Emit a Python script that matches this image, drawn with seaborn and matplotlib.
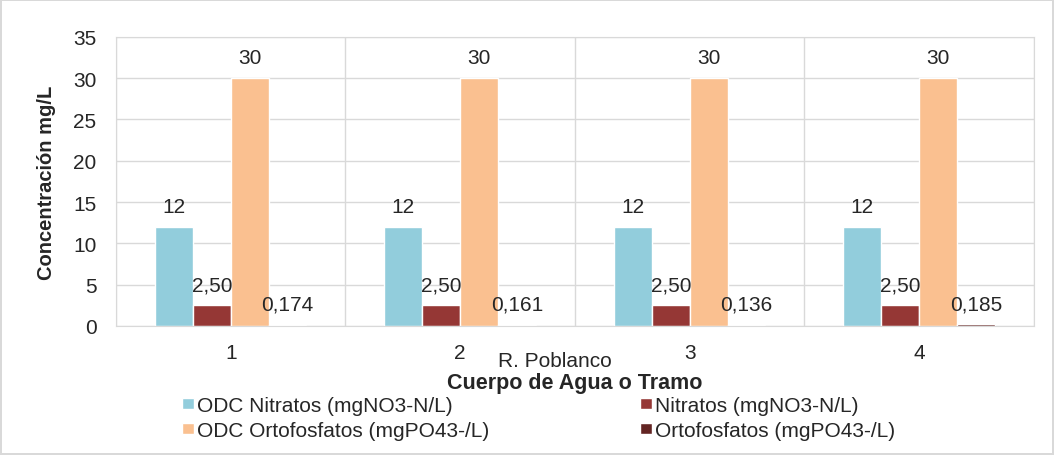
import pandas as pd
import seaborn as sns
import matplotlib.pyplot as plt
from matplotlib.ticker import MultipleLocator

tramos = ['1', '2', '3', '4']
series = ['ODC Nitratos (mgNO3-N/L)', 'Nitratos (mgNO3-N/L)',
          'ODC Ortofosfatos (mgPO43-/L)', 'Ortofosfatos (mgPO43-/L)']
odc_nitratos = [12, 12, 12, 12]
nitratos = [2.50, 2.50, 2.50, 2.50]
odc_ortofosfatos = [30, 30, 30, 30]
ortofosfatos = [0.174, 0.161, 0.136, 0.185]
etiquetas = [
    ['12'] * 4,
    ['2,50'] * 4,
    ['30'] * 4,
    ['0,174', '0,161', '0,136', '0,185'],
]
colores = ['#92CDDC', '#953735', '#FAC090', '#632523']

valores = [odc_nitratos, nitratos, odc_ortofosfatos, ortofosfatos]
df = pd.DataFrame({
    'Tramo': tramos * 4,
    'Serie': [s for s in series for _ in tramos],
    'Valor': [v for vals in valores for v in vals],
})

sns.set_style('white')
plt.rcParams['font.family'] = ['Liberation Sans', 'DejaVu Sans']

fig = plt.figure(figsize=(10.54, 4.56), dpi=100, edgecolor='#d9d9d9', linewidth=1.5)
ax = fig.add_axes([0.110, 0.283, 0.871, 0.634])

sns.barplot(data=df, x='Tramo', y='Valor', hue='Serie', palette=colores,
            width=0.66, saturation=1, ax=ax, legend=True)

# etiquetas de datos
for cont, labs in zip(ax.containers, etiquetas):
    ax.bar_label(cont, labels=labs, padding=8, fontsize=15)

ax.set_ylim(0, 35)
ax.set_xlim(-0.5, 3.5)
ax.yaxis.set_major_locator(MultipleLocator(5))
ax.set_xticks([-0.5, 0.5, 1.5, 2.5, 3.5], minor=True)
ax.grid(axis='y', color='#d9d9d9', linewidth=1)
ax.grid(axis='x', which='minor', color='#d9d9d9', linewidth=1)
ax.set_axisbelow(True)
for s in ax.spines.values():
    s.set_color('#d9d9d9')
ax.tick_params(axis='both', which='both', length=0, labelsize=15)
ax.tick_params(axis='x', pad=12)
ax.tick_params(axis='y', pad=14)

ax.set_ylabel('Concentración mg/L', fontsize=14.5, fontweight='bold')
ax.yaxis.set_label_coords(-0.076, 0.5)
ax.yaxis.label.set_va('center')
ax.set_xlabel('Cuerpo de Agua o Tramo', fontsize=15.5, fontweight='bold')
ax.xaxis.set_label_coords(0.5, -0.194)
ax.xaxis.label.set_va('center')
ax.text(0.478, -0.121, 'R. Poblanco', transform=ax.transAxes, ha='center',
        va='center', fontsize=15)

handles, labels = ax.get_legend_handles_labels()
ax.legend_.remove()
orden = [0, 2, 1, 3]
fig.legend([handles[i] for i in orden], [labels[i] for i in orden], ncol=2,
           loc='center', bbox_to_anchor=(0.511, 0.081),
           frameon=False, fontsize=15, handlelength=0.6, handleheight=0.45,
           handletextpad=0.15, columnspacing=7.2, labelspacing=0.3,
           borderpad=0)

plt.savefig('out.png', dpi=100)
